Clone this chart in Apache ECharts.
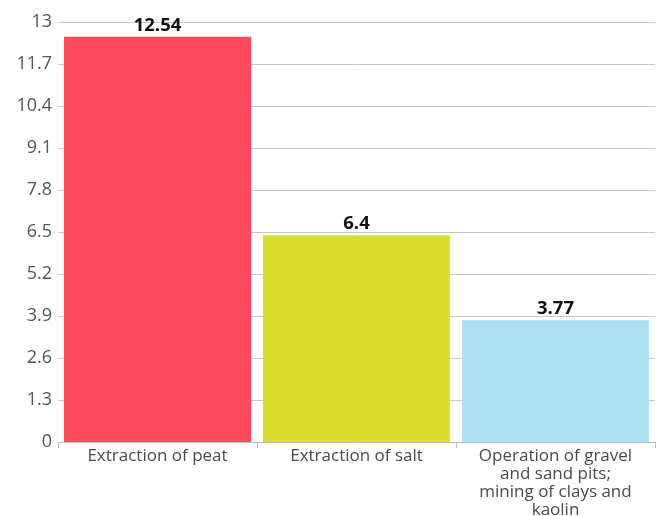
<!DOCTYPE html>
<html>
<head>
<meta charset="utf-8">
<script src="https://cdn.jsdelivr.net/npm/echarts@6.0.0/dist/echarts.min.js"></script>
<style>
  html, body { margin: 0; padding: 0; background: #fff; }
  #chart { width: 659px; height: 516px; }
</style>
</head>
<body>
<div id="chart"></div>
<script>
var categories = ['Extraction of peat', 'Extraction of salt', 'Operation of gravel\nand sand pits;\nmining of clays and\nkaolin'];
var values = [12.54, 6.4, 3.77];
var barColors = ['#ff4b5c', '#d9e030', '#ade1f3'];

var chart = echarts.init(document.getElementById('chart'));

var option = {
  animation: false,
  grid: { left: 58, right: 4, top: 22, bottom: 74, outerBoundsMode: 'none' },
  xAxis: {
    type: 'category',
    data: categories,
    axisLine: { lineStyle: { color: '#bbbbbb', width: 1 } },
    axisTick: { show: true, length: 6, lineStyle: { color: '#bbbbbb' } },
    axisLabel: {
      color: '#4a4a4a',
      fontFamily: 'Open Sans',
      fontSize: 17,
      lineHeight: 18,
      margin: 5,
      interval: 0
    }
  },
  yAxis: {
    type: 'value',
    min: 0,
    max: 13,
    interval: 1.3,
    axisLine: { show: false },
    axisTick: { show: false },
    splitLine: { lineStyle: { color: '#c8c8c8', width: 1 } },
    axisLabel: {
      color: '#555555',
      fontFamily: 'Open Sans',
      fontSize: 18,
      margin: 6,
      formatter: function (v) { return String(Math.round(v * 10) / 10); }
    }
  },
  series: [{
    type: 'bar',
    data: values.map(function (v, i) {
      return { value: v, itemStyle: { color: barColors[i] } };
    }),
    barCategoryGap: '6%',
    label: {
      show: true,
      position: 'top',
      distance: 2,
      color: '#111111',
      fontFamily: 'Open Sans',
      fontWeight: 'bold',
      fontSize: 18.5
    }
  }]
};

chart.setOption(option);
</script>
</body>
</html>
